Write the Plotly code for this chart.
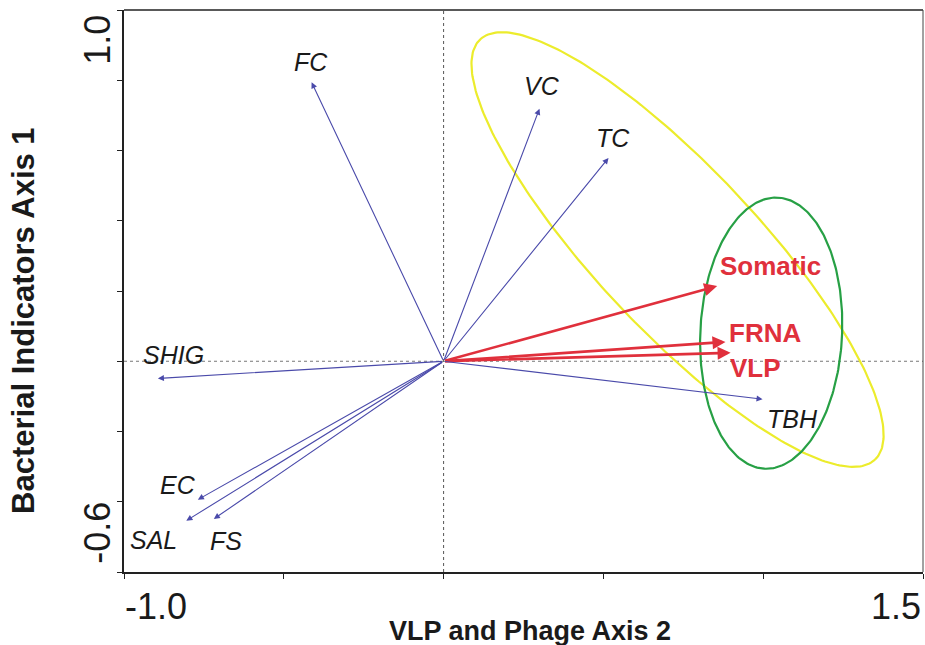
import numpy as np
import plotly.graph_objects as go

# ---------------- data ----------------
variables = ["FC", "VC", "TC", "Somatic", "FRNA", "VLP", "TBH", "SHIG", "EC", "SAL", "FS"]
axis2_scores = [-0.413, 0.300, 0.516, 0.856, 0.882, 0.898, 0.998, -0.894, -0.769, -0.805, -0.719]
axis1_scores = [0.794, 0.719, 0.579, 0.214, 0.055, 0.024, -0.108, -0.049, -0.394, -0.454, -0.449]
groups = ["bact", "bact", "bact", "phage", "phage", "phage", "bact", "bact", "bact", "bact", "bact"]

x_ticks = [-1.0, -0.5, 0.0, 0.5, 1.0, 1.5]
y_ticks = [-0.6, -0.4, -0.2, 0.0, 0.2, 0.4, 0.6, 0.8, 1.0]
x_range = [-1.0, 1.5]
y_range = [-0.6, 1.0]

# grouping ellipses: centre, semi-axis vector A, semi-axis vector B (data units)
yellow_ellipse = dict(c=(0.732, 0.318), A=(0.618, -0.598), B=(-0.184, -0.159))
green_ellipse = dict(c=(1.025, 0.080), A=(0.222, 0.0), B=(0.015, 0.386))

# ---------------- styling ----------------
label_offsets = {  # (xshift px, yshift px, xanchor)
    "FC": (-1, 20, "center"), "VC": (3, 23, "center"), "TC": (4, 20, "center"),
    "Somatic": (1, 20, "left"), "FRNA": (2, 9, "left"), "VLP": (-3, -15, "left"),
    "TBH": (30, -20, "center"), "SHIG": (16, 23, "center"), "EC": (-20, 15, "center"),
    "SAL": (-33, -19, "center"), "FS": (12, -22, "center"),
}
BLUE = "#4a4aaa"
RED = "#e0303c"
FONT = "Liberation Sans, Arial, sans-serif"

fig = go.Figure()

t = np.linspace(0, 2 * np.pi, 300)
for ell, col in [(yellow_ellipse, "#ecec2c"), (green_ellipse, "#27a045")]:
    cx, cy = ell["c"]
    ax_, ay_ = ell["A"]
    bx_, by_ = ell["B"]
    fig.add_trace(go.Scatter(
        x=cx + ax_ * np.cos(t) + bx_ * np.sin(t),
        y=cy + ay_ * np.cos(t) + by_ * np.sin(t),
        mode="lines", line=dict(color=col, width=2.2),
        hoverinfo="skip", showlegend=False))

annotations = []
for name, xv, yv, g in zip(variables, axis2_scores, axis1_scores, groups):
    is_phage = g == "phage"
    annotations.append(dict(
        x=xv, y=yv, ax=0, ay=0, xref="x", yref="y", axref="x", ayref="y",
        text="", showarrow=True, arrowhead=2,
        arrowsize=1.0 if is_phage else 1.1,
        arrowwidth=2.6 if is_phage else 1.1,
        arrowcolor=RED if is_phage else BLUE,
        standoff=0, startstandoff=0))
    dx, dy, anc = label_offsets[name]
    annotations.append(dict(
        x=xv, y=yv, xref="x", yref="y", showarrow=False,
        text=f"<b>{name}</b>" if is_phage else f"<i>{name}</i>",
        xanchor=anc, yanchor="middle", xshift=dx, yshift=dy,
        font=dict(family=FONT, size=26 if is_phage else 25,
                  color=RED if is_phage else "#1a1a1a")))

# tick labels placed inside the ends as in the original
tick_font = dict(family=FONT, size=36, color="#1a1a1a")
annotations += [
    dict(x=x_ticks[0], y=0, xref="x", yref="paper", text=f"{x_ticks[0]:.1f}",
         showarrow=False, xanchor="left", yanchor="top", yshift=-12, xshift=-1, font=tick_font),
    dict(x=x_ticks[-1], y=0, xref="x", yref="paper", text=f"{x_ticks[-1]:.1f}",
         showarrow=False, xanchor="right", yanchor="top", yshift=-12, xshift=0, font=tick_font),
    dict(x=-0.034, y=y_ticks[-1], xref="paper", yref="y", text=f"{y_ticks[-1]:.1f}",
         showarrow=False, textangle=-90, xanchor="center", yanchor="top", yshift=-3, font=tick_font),
    dict(x=-0.034, y=y_ticks[0], xref="paper", yref="y", text=f"{y_ticks[0]:.1f}",
         showarrow=False, textangle=-90, xanchor="center", yanchor="bottom", yshift=6, font=tick_font),
    dict(x=0.508, y=-0.105, xref="paper", yref="paper", text="<b>VLP and Phage Axis 2</b>",
         showarrow=False, xanchor="center", yanchor="middle",
         font=dict(family=FONT, size=27, color="#1a1a1a")),
    dict(x=-0.125, y=0.447, xref="paper", yref="paper", text="<b>Bacterial Indicators Axis 1</b>",
         showarrow=False, textangle=-90, xanchor="center", yanchor="middle",
         font=dict(family=FONT, size=31, color="#1a1a1a")),
]

shapes = [
    dict(type="line", xref="x", yref="paper", x0=0, x1=0, y0=0, y1=1,
         line=dict(color="#555555", width=1, dash="dot"), layer="below"),
    dict(type="line", xref="paper", yref="y", x0=0, x1=1, y0=0, y1=0,
         line=dict(color="#777777", width=1, dash="dot"), layer="below"),
    dict(type="line", xref="paper", yref="paper", x0=0, x1=1, y0=1, y1=1,
         line=dict(color="#222222", width=1.5)),
    dict(type="line", xref="paper", yref="paper", x0=1, x1=1, y0=0, y1=1,
         line=dict(color="#444444", width=1)),
]

fig.update_layout(
    width=925, height=645,
    margin=dict(l=124, r=2, t=10, b=73),
    plot_bgcolor="white", paper_bgcolor="white",
    showlegend=False,
    annotations=annotations, shapes=shapes,
    xaxis=dict(range=x_range, tickvals=x_ticks, showticklabels=False, ticks="outside",
               ticklen=5, tickcolor="#222", showgrid=False, zeroline=False,
               showline=True, linecolor="#222", linewidth=2),
    yaxis=dict(range=y_range, tickvals=y_ticks, showticklabels=False, ticks="outside",
               ticklen=5, tickcolor="#222", showgrid=False, zeroline=False,
               showline=True, linecolor="#222", linewidth=2),
)

fig.write_html("out.html")
